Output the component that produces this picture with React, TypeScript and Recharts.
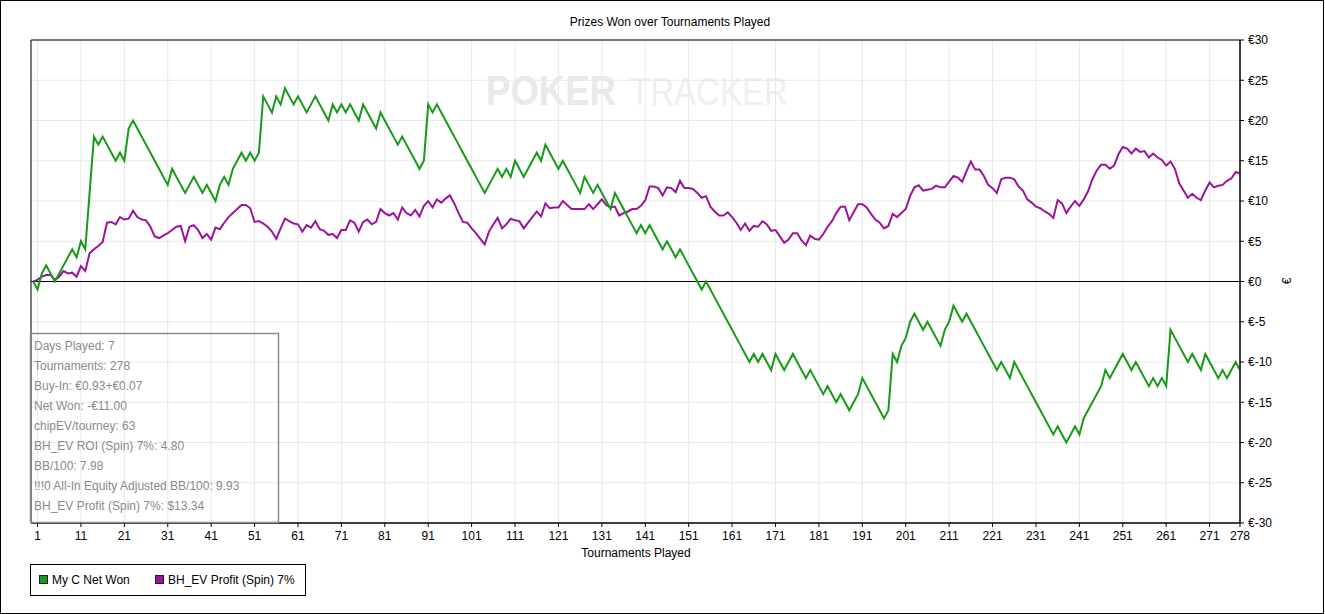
import React from 'react';
import { LineChart, Line, XAxis, YAxis, CartesianGrid, ReferenceLine, ReferenceArea } from 'recharts';

// Net won per tournament (index 0 = start)
const netWon: number[] = [
  0, -1, 1, 2, 1, 0, 1, 2, 3, 4,
  3, 5, 4, 11, 18, 17, 18, 17, 16, 15,
  16, 15, 19, 20, 19, 18, 17, 16, 15, 14,
  13, 12, 14, 13, 12, 11, 12, 13, 12, 11,
  12, 11, 10, 12, 13, 12, 14, 15, 16, 15,
  16, 15, 16, 23, 22, 21, 23, 22, 24, 23,
  22, 23, 22, 21, 22, 23, 22, 21, 20, 22,
  21, 22, 21, 22, 21, 20, 22, 21, 20, 19,
  21, 20, 19, 18, 17, 18, 17, 16, 15, 14,
  15, 22, 21, 22, 21, 20, 19, 18, 17, 16,
  15, 14, 13, 12, 11, 12, 13, 14, 13, 14,
  13, 15, 14, 13, 14, 15, 16, 15, 17, 16,
  15, 14, 15, 14, 13, 12, 11, 13, 12, 11,
  12, 11, 10, 9, 11, 10, 9, 8, 7, 6,
  7, 6, 7, 6, 5, 4, 5, 4, 3, 4,
  3, 2, 1, 0, -1, 0, -1, -2, -3, -4,
  -5, -6, -7, -8, -9, -10, -9, -10, -9, -10,
  -11, -9, -10, -11, -10, -9, -10, -11, -12, -11,
  -12, -13, -14, -13, -14, -15, -14, -15, -16, -15,
  -14, -12, -13, -14, -15, -16, -17, -16, -9, -10,
  -8, -7, -5, -4, -5, -6, -5, -6, -7, -8,
  -6, -5, -3, -4, -5, -4, -5, -6, -7, -8,
  -9, -10, -11, -10, -11, -12, -10, -11, -12, -13,
  -14, -15, -16, -17, -18, -19, -18, -19, -20, -19,
  -18, -19, -17, -16, -15, -14, -13, -11, -12, -11,
  -10, -9, -10, -11, -10, -11, -12, -13, -12, -13,
  -12, -13, -6, -7, -8, -9, -10, -9, -10, -11,
  -9, -10, -11, -12, -11, -12, -11, -10, -11,
];

// BH_EV profit per tournament (index 0 = start)
const evProfit: number[] = [
  0, 0.2, 0.6, 0.8, 0.8, 0.2, 0.6, 1.3, 1.0, 1.1,
  0.6, 1.9, 1.3, 3.5, 4.0, 4.4, 4.9, 7.3, 7.4, 7.1,
  8.0, 7.7, 7.8, 8.8, 8.0, 7.7, 7.6, 6.8, 5.6, 5.4,
  5.7, 6.0, 6.4, 6.8, 6.9, 5.0, 6.8, 7.0, 6.4, 5.4,
  5.9, 5.2, 6.7, 6.5, 7.3, 8.0, 8.5, 9.0, 9.5, 9.5,
  9.1, 7.4, 7.5, 7.2, 6.8, 6.2, 5.3, 6.6, 7.8, 7.5,
  7.2, 7.1, 6.2, 7.0, 6.7, 7.5, 6.5, 6.3, 5.8, 5.9,
  5.4, 6.4, 6.4, 7.6, 7.3, 6.2, 7.4, 7.7, 7.1, 7.4,
  9.0, 8.5, 8.2, 8.5, 7.7, 9.2, 8.5, 8.2, 8.9, 8.1,
  9.4, 10.0, 9.2, 10.2, 9.8, 10.3, 10.7, 9.7, 8.5, 7.4,
  7.3, 6.6, 6.0, 5.3, 4.6, 6.2, 7.1, 7.9, 6.6, 7.1,
  7.8, 7.6, 7.5, 6.6, 7.3, 8.0, 8.7, 8.1, 9.7, 9.1,
  9.2, 9.2, 10.0, 9.5, 9.0, 9.0, 9.0, 9.0, 9.6, 9.0,
  9.6, 10.2, 9.5, 9.2, 9.3, 8.2, 8.5, 8.7, 9.0, 9.0,
  9.4, 10.1, 11.8, 11.8, 11.6, 10.7, 11.7, 11.6, 11.1, 12.5,
  11.6, 11.6, 11.5, 11.0, 10.4, 10.6, 9.3, 8.7, 8.2, 8.2,
  8.6, 8.0, 7.3, 6.4, 7.2, 6.3, 6.9, 6.8, 7.5, 7.1,
  6.3, 6.4, 5.6, 4.8, 5.2, 6.0, 6.0, 5.1, 4.5, 5.7,
  5.3, 5.2, 5.9, 6.8, 7.5, 8.5, 9.3, 9.3, 7.6, 8.6,
  9.6, 9.6, 9.2, 8.4, 7.7, 7.3, 6.6, 6.9, 8.4, 8.0,
  8.5, 9.0, 10.6, 11.7, 11.95, 11.3, 11.4, 11.5, 11.9, 11.7,
  11.7, 12.4, 13.1, 12.9, 12.4, 13.7, 14.9, 13.9, 13.9, 13.1,
  12.0, 11.6, 11.0, 12.7, 12.9, 12.9, 12.7, 11.8, 11.3, 10.2,
  9.8, 9.3, 9.1, 8.7, 8.4, 7.9, 10.1, 9.7, 8.5, 9.3,
  10.0, 9.4, 10.2, 11.2, 12.7, 13.8, 14.5, 14.5, 14.0, 14.4,
  15.8, 16.7, 16.5, 15.9, 16.5, 16.1, 16.2, 15.4, 15.9, 15.4,
  15.1, 14.4, 14.9, 14.0, 12.2, 11.3, 10.4, 10.9, 10.4, 10.1,
  11.3, 12.3, 11.7, 11.9, 12.0, 12.5, 12.8, 13.6, 13.4,
];

const xTicks: number[] = [1, 11, 21, 31, 41, 51, 61, 71, 81, 91, 101, 111, 121, 131, 141, 151, 161, 171, 181, 191, 201, 211, 221, 231, 241, 251, 261, 271, 278];
const yTicks: number[] = [-30, -25, -20, -15, -10, -5, 0, 5, 10, 15, 20, 25, 30];

const seriesNames: string[] = ['My C Net Won', 'BH_EV Profit (Spin) 7%'];
const seriesColors: string[] = ['#179a17', '#9c139c'];

const chartTitle = 'Prizes Won over Tournaments Played';
const xTitle = 'Tournaments Played';
const yTitle = '€';
const watermark: string[] = ['POKER', 'TRACKER'];

const statsLines: string[] = [
  'Days Played: 7',
  'Tournaments: 278',
  'Buy-In: €0.93+€0.07',
  'Net Won: -€11.00',
  'chipEV/tourney: 63',
  'BH_EV ROI (Spin) 7%: 4.80',
  'BB/100: 7.98',
  '!!!0 All-In Equity Adjusted BB/100: 9.93',
  'BH_EV Profit (Spin) 7%: $13.34',
];

const data = netWon.map((v, i) => ({ t: i, net: v, ev: evProfit[i] }));

const W = 1325;
const H = 614;
const FONT = '"Liberation Sans", Arial, sans-serif';
const WM_SCALE = 'translate(0,105) scale(1,1.2) translate(0,-105)';

export default function App() {
  return (
    <div style={{ position: 'absolute', left: 0, top: 0, width: W, height: H, background: '#fff', fontFamily: FONT }}>
      {/* background layer: frame, title, watermark */}
      <svg width={W} height={H} style={{ position: 'absolute', left: 0, top: 0 }}>
        <rect x={0.5} y={0.5} width={W - 2} height={H - 1} fill="#fff" stroke="#000" strokeWidth={1} />
        <text x={670} y={26} textAnchor="middle" fontSize={12} fill="#000" fontFamily={FONT}>{chartTitle}</text>
        <g transform={WM_SCALE}>
          <text x={486} y={105} fontSize={36} fontWeight="bold" fill="#e9e9e9" fontFamily={FONT} textLength={130} lengthAdjust="spacingAndGlyphs">{watermark[0]}</text>
          <text x={630} y={105} fontSize={33} fill="#efefef" fontFamily={FONT} textLength={158} lengthAdjust="spacingAndGlyphs">{watermark[1]}</text>
        </g>
      </svg>
      <div style={{ position: 'absolute', left: 0, top: 0 }}>
        <LineChart width={W} height={H} data={data} margin={{ top: 40, right: 25, bottom: 61, left: 31 }}>
          <CartesianGrid stroke="#e8e8e8" strokeWidth={1} />
          <XAxis
            dataKey="t"
            type="number"
            domain={[-0.5, 278]}
            ticks={xTicks}
            interval={0}
            height={30}
            tickSize={4}
            tickMargin={4}
            stroke="#000"
            tick={{ fontSize: 12, fill: '#000', fontFamily: FONT }}
            allowDataOverflow
          />
          <YAxis
            orientation="right"
            type="number"
            domain={[-30, 30]}
            ticks={yTicks}
            interval={0}
            width={60}
            tickSize={4}
            tickMargin={4}
            stroke="#000"
            tick={{ fontSize: 12, fill: '#000', fontFamily: FONT }}
            tickFormatter={(v: number) => `€${v}`}
            allowDataOverflow
          />
          <ReferenceArea x1={-0.5} x2={278} y1={-30} y2={30} fill="none" stroke="#000" strokeWidth={1} ifOverflow="visible" />
          <ReferenceLine y={0} stroke="#000" strokeWidth={1} />
          <Line dataKey="ev" name={seriesNames[1]} stroke={seriesColors[1]} strokeWidth={2} dot={false} type="linear" isAnimationActive={false} />
          <Line dataKey="net" name={seriesNames[0]} stroke={seriesColors[0]} strokeWidth={2} dot={false} type="linear" isAnimationActive={false} />
        </LineChart>
      </div>
      {/* overlay: axis titles, stats box, legend */}
      <svg width={W} height={H} style={{ position: 'absolute', left: 0, top: 0, pointerEvents: 'none' }}>
        <text x={636} y={557} textAnchor="middle" fontSize={12} fill="#000" fontFamily={FONT}>{xTitle}</text>
        <text x={1287} y={281} textAnchor="middle" dominantBaseline="central" fontSize={12} fill="#000" fontFamily={FONT} transform="rotate(-90 1287 281)">{yTitle}</text>
        <rect x={30.5} y={333.5} width={248} height={189} fill="none" stroke="#8c8c8c" strokeWidth={1.5} />
        {statsLines.map((s, i) => (
          <text key={i} x={34} y={350 + i * 20} fontSize={12} fill="#8a8a8a" fontFamily={FONT}>{s}</text>
        ))}
        <rect x={30.5} y={564.5} width={275} height={31} fill="#fff" stroke="#000" strokeWidth={1} />
        <rect x={39.5} y={575.5} width={8} height={8} fill={seriesColors[0]} stroke="#222" strokeWidth={1} />
        <text x={52} y={584} fontSize={12} fill="#000" fontFamily={FONT}>{seriesNames[0]}</text>
        <rect x={155.5} y={575.5} width={8} height={8} fill={seriesColors[1]} stroke="#222" strokeWidth={1} />
        <text x={168} y={584} fontSize={12} fill="#000" fontFamily={FONT}>{seriesNames[1]}</text>
      </svg>
    </div>
  );
}
